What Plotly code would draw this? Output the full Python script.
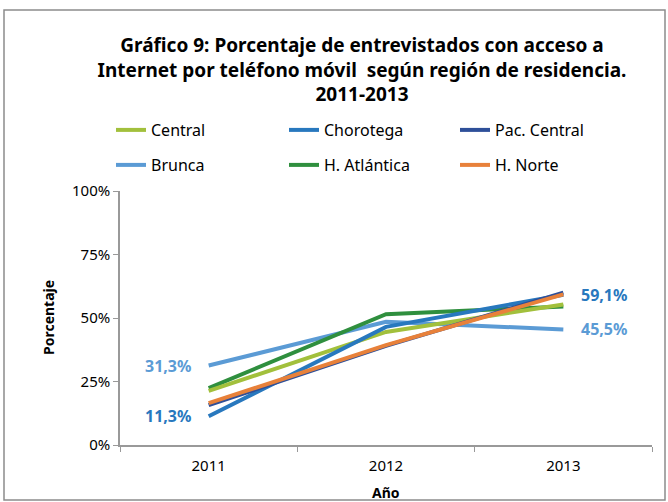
import plotly.graph_objects as go

years = ["2011", "2012", "2013"]
series_names = ["Central", "Chorotega", "Pac. Central", "Brunca", "H. Atlántica", "H. Norte"]
central = [21.3, 44.5, 55.3]
chorotega = [11.3, 46.5, 59.1]
pac_central = [15.7, 39.0, 60.0]
brunca = [31.3, 48.5, 45.5]
h_atlantica = [22.4, 51.5, 54.5]
h_norte = [16.5, 39.3, 59.3]
values = [central, chorotega, pac_central, brunca, h_atlantica, h_norte]
colors = ["#A2C03C", "#2878BE", "#2E4F99", "#5B9BD5", "#2F8F3E", "#E8813A"]
y_ticks = [0, 25, 50, 75, 100]
y_tick_labels = ["0%", "25%", "50%", "75%", "100%"]

FONT = "Noto Sans, sans-serif"
W, H = 668, 502
L, R, T, B = 120, 16, 191, 57
PW, PH = W - L - R, H - T - B

fig = go.Figure()
legend_names = ["legend", "legend2", "legend3", "legend4", "legend5", "legend6"]
legend_pos = [(110, 113), (283, 113), (454, 113), (110, 148), (283, 148), (454, 148)]
draw_order = [3, 4, 0, 1, 2, 5]
for i in draw_order:
    fig.add_trace(go.Scatter(
        x=years, y=values[i], mode="lines", name=series_names[i],
        line=dict(color=colors[i], width=4), legend=legend_names[i],
        hoverinfo="skip"))

layout_legends = {}
for k, (px, py) in enumerate(legend_pos):
    layout_legends[legend_names[k]] = dict(
        x=(px + 1) / W, y=1 - py / H, xref="container", yref="container",
        xanchor="left", yanchor="top", bgcolor="rgba(0,0,0,0)",
        font=dict(family=FONT, size=16, color="#000"), itemwidth=30)

def lab(series_idx, year_idx, color, side):
    v = values[series_idx][year_idx]
    return dict(x=year_idx, y=v, xref="x", yref="y",
                text=f"<b>{v:.1f}%</b>".replace(".", ","),
                showarrow=False, xanchor="right" if side == "left" else "left",
                xshift=-16 if side == "left" else 16,
                font=dict(family=FONT, size=16, color=color))

annotations = [
    lab(3, 0, "#5B9BD5", "left"),
    lab(1, 0, "#2878BE", "left"),
    lab(1, 2, "#2878BE", "right"),
    lab(3, 2, "#5B9BD5", "right"),
    dict(text="<b>Porcentaje</b>", xref="paper", yref="paper", x=(48 - L) / PW, y=0.5,
         textangle=-90, showarrow=False, xanchor="center", yanchor="middle",
         font=dict(family=FONT, size=14, color="#000")),
    dict(text="<b>Año</b>", xref="paper", yref="paper", x=0.5, y=-(492 - (H - B)) / PH,
         showarrow=False, xanchor="center", yanchor="middle",
         font=dict(family=FONT, size=14, color="#000")),
]

fig.update_layout(
    width=W, height=H,
    margin=dict(l=L, r=R, t=T, b=B, autoexpand=False),
    paper_bgcolor="white", plot_bgcolor="white",
    font=dict(family=FONT, size=14, color="#000"),
    title=dict(
        text="<b>Gráfico 9: Porcentaje de entrevistados con acceso a<br>Internet por teléfono móvil  según región de residencia.<br>2011-2013</b>",
        x=362 / W, xanchor="center", y=1 - 52 / H, yanchor="top",
        font=dict(family=FONT, size=19, color="#000")),
    showlegend=True,
    annotations=annotations,
    xaxis=dict(type="category", range=[-0.5, 2.5], tickson="boundaries",
               ticks="outside", ticklen=5, tickcolor="#999", showline=True,
               linecolor="#999", linewidth=1.5, showgrid=False, automargin=False,
               ticklabelstandoff=6,
               tickfont=dict(family=FONT, size=15, color="#000")),
    yaxis=dict(range=[0, 100], tickvals=y_ticks, ticktext=y_tick_labels,
               ticks="outside", ticklen=5, tickcolor="#999", showline=True,
               linecolor="#999", linewidth=1.5, showgrid=False, zeroline=False, automargin=False,
               tickfont=dict(family=FONT, size=15, color="#000")),
    shapes=[dict(type="rect", xref="paper", yref="paper",
                 x0=(4 - L) / PW, x1=(665 - L) / PW,
                 y0=-(500 - (H - B)) / PH, y1=1 + (T - 10) / PH,
                 line=dict(color="#8c8c8c", width=1.5))],
    **layout_legends,
)

fig.write_html("out.html", config={"displayModeBar": False},
               post_script="document.body.style.margin='0';")
